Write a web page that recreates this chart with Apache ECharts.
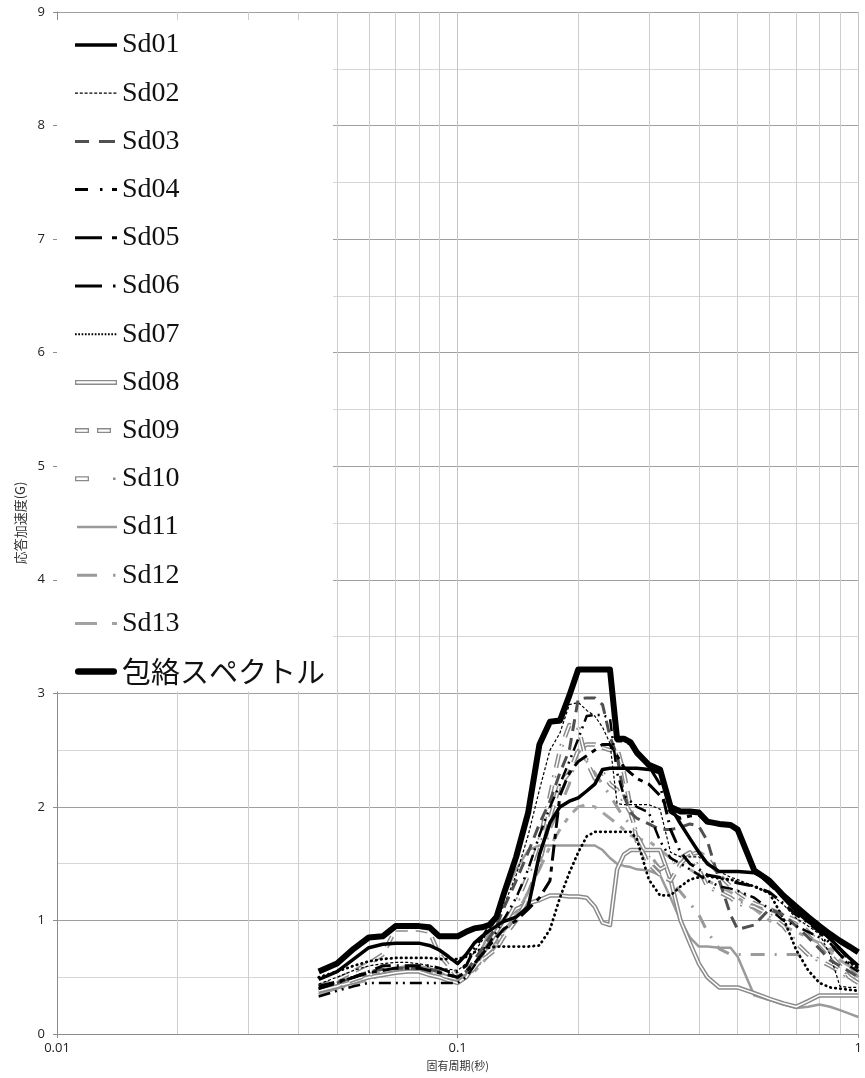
<!DOCTYPE html>
<html><head><meta charset="utf-8">
<script src="https://cdn.jsdelivr.net/npm/echarts@6/dist/echarts.min.js"></script>
<style>html,body{margin:0;padding:0;background:#fff}#c{width:865px;height:1078px}</style>
</head><body><div id="c"></div>
<script>
// ---- data (period in seconds, response acceleration in G) ----
const periods = [0.045,0.05,0.055,0.06,0.065,0.07,0.075,0.08,0.085,0.09,0.095,0.1,
  0.105,0.11,0.115,0.12,0.125,0.13,
  0.14,0.15,0.16,0.17,0.18,0.19,0.2,0.21,0.22,0.23,0.24,0.25,0.26,0.27,0.28,
  0.3,0.32,0.34,0.36,0.38,0.4,0.42,0.45,0.48,0.5,0.55,0.6,0.65,0.7,0.75,0.8,0.85,0.9,0.95,1.0];

const sd01 = [0.48,0.55,0.66,0.76,0.79,0.80,0.80,0.80,0.78,0.74,0.68,0.62,
  0.70,0.80,0.86,0.91,0.95,0.99,
  1.03,1.12,1.58,1.86,2.00,2.05,2.08,2.14,2.20,2.33,2.34,2.34,2.34,2.34,2.34,
  2.33,2.30,2.00,1.85,1.72,1.60,1.50,1.43,1.43,1.43,1.42,1.35,1.20,1.08,0.99,0.92,0.84,0.75,0.67,0.60];
const sd02 = [0.44,0.50,0.56,0.60,0.62,0.63,0.63,0.62,0.60,0.58,0.57,0.56,
  0.62,0.72,0.82,0.92,1.00,1.12,
  1.40,1.75,2.15,2.50,2.65,2.90,2.92,2.85,2.80,2.70,2.56,2.03,2.02,2.02,2.02,
  2.02,1.98,1.60,1.56,1.56,1.56,1.50,1.43,1.38,1.36,1.30,1.24,1.14,1.02,0.95,0.88,0.70,0.42,0.41,0.41];
const sd03 = [0.40,0.45,0.50,0.55,0.57,0.58,0.58,0.58,0.57,0.55,0.52,0.50,
  0.55,0.65,0.75,0.85,0.95,1.10,
  1.35,1.60,1.85,2.05,2.30,2.50,2.95,2.96,2.96,2.90,2.62,2.45,2.10,1.95,1.90,
  1.85,1.80,1.80,1.82,1.85,1.83,1.70,1.35,1.05,0.92,0.96,1.10,1.05,0.95,0.85,0.75,0.65,0.60,0.55,0.50];
const sd04 = [0.33,0.38,0.42,0.45,0.45,0.45,0.45,0.45,0.45,0.45,0.45,0.45,
  0.50,0.60,0.70,0.80,0.90,1.00,
  1.20,1.45,1.75,2.00,2.20,2.40,2.60,2.80,2.81,2.81,2.78,2.30,2.10,2.05,2.00,
  1.95,1.70,1.55,1.50,1.45,1.40,1.35,1.30,1.28,1.26,1.20,1.10,1.00,0.95,0.90,0.85,0.80,0.70,0.60,0.55];
const sd05 = [0.42,0.46,0.50,0.54,0.56,0.58,0.58,0.58,0.56,0.54,0.52,0.50,
  0.55,0.62,0.70,0.78,0.85,0.92,
  1.00,1.10,1.20,1.35,2.10,2.30,2.40,2.45,2.50,2.55,2.55,2.45,2.35,2.30,2.25,
  2.20,2.10,1.95,1.90,1.92,1.93,1.86,1.84,1.83,1.79,1.44,1.32,1.20,1.10,1.00,0.92,0.84,0.75,0.65,0.55];
const sd06 = [0.40,0.45,0.50,0.55,0.60,0.60,0.60,0.60,0.60,0.58,0.55,0.55,
  0.60,0.75,0.85,0.95,1.02,1.20,
  1.55,1.94,2.54,2.74,2.75,2.97,3.20,3.20,3.20,3.20,3.20,2.58,2.58,2.55,2.46,
  2.36,2.20,1.80,1.60,1.50,1.45,1.40,1.38,1.35,1.33,1.30,1.25,1.15,1.05,0.98,0.90,0.80,0.70,0.62,0.58];
const sd07 = [0.50,0.55,0.60,0.64,0.66,0.67,0.67,0.67,0.67,0.66,0.66,0.66,
  0.68,0.72,0.75,0.76,0.77,0.77,
  0.77,0.77,0.78,0.92,1.20,1.42,1.60,1.74,1.78,1.78,1.78,1.78,1.78,1.78,1.72,
  1.36,1.22,1.22,1.30,1.36,1.38,1.39,1.37,1.36,1.34,1.30,1.24,1.02,0.74,0.56,0.45,0.41,0.40,0.39,0.38];
const sd08 = [0.38,0.42,0.46,0.50,0.52,0.54,0.55,0.55,0.52,0.50,0.47,0.45,
  0.50,0.60,0.70,0.80,0.90,1.00,
  1.10,1.15,1.18,1.22,1.22,1.21,1.21,1.20,1.12,0.98,0.96,1.45,1.58,1.62,1.62,
  1.62,1.62,1.36,1.00,0.80,0.62,0.50,0.41,0.41,0.41,0.36,0.31,0.27,0.24,0.29,0.34,0.34,0.34,0.34,0.34];
const sd09 = [0.42,0.48,0.55,0.62,0.70,0.92,0.92,0.92,0.90,0.70,0.60,0.50,
  0.55,0.60,0.65,0.70,0.75,0.85,
  1.00,1.20,1.50,1.90,2.20,2.30,2.50,2.55,2.55,2.52,2.50,2.52,2.30,2.00,1.70,
  1.50,1.40,1.35,1.50,1.58,1.60,1.55,1.40,1.30,1.25,1.15,1.10,1.05,1.00,0.90,0.80,0.70,0.60,0.50,0.45];
const sd10 = [0.38,0.42,0.48,0.52,0.55,0.57,0.58,0.58,0.55,0.52,0.50,0.48,
  0.50,0.58,0.66,0.75,0.85,0.95,
  1.15,1.40,1.70,2.10,2.50,2.72,2.70,2.40,2.25,2.30,2.20,2.15,2.05,1.95,1.75,
  1.55,1.45,1.50,1.55,1.60,1.45,1.30,1.25,1.20,1.15,1.12,1.05,0.95,0.80,0.70,0.65,0.60,0.55,0.50,0.45];
const sd11 = [0.35,0.40,0.45,0.50,0.55,0.58,0.60,0.60,0.58,0.55,0.50,0.45,
  0.50,0.60,0.75,0.90,1.05,1.20,
  1.45,1.62,1.66,1.66,1.66,1.66,1.66,1.66,1.66,1.62,1.55,1.50,1.48,1.47,1.45,
  1.44,1.40,1.20,1.00,0.85,0.77,0.77,0.76,0.76,0.68,0.34,0.30,0.26,0.23,0.24,0.26,0.24,0.21,0.18,0.15];
const sd12 = [0.40,0.44,0.48,0.52,0.55,0.57,0.58,0.58,0.56,0.54,0.52,0.50,
  0.52,0.58,0.64,0.70,0.78,0.88,
  1.05,1.25,1.50,1.80,2.00,2.20,2.50,2.40,2.30,2.20,2.10,2.00,1.90,1.85,1.75,
  1.60,1.45,1.35,1.25,1.15,1.05,0.90,0.75,0.70,0.70,0.70,0.70,0.70,0.70,0.68,0.72,0.75,0.70,0.60,0.50];
const sd13 = [0.36,0.40,0.44,0.48,0.52,0.55,0.56,0.56,0.54,0.52,0.50,0.48,
  0.50,0.55,0.62,0.70,0.80,0.90,
  1.05,1.25,1.45,1.65,1.80,1.92,2.00,2.02,2.00,1.95,1.90,1.85,1.80,1.75,1.72,
  1.70,1.62,1.55,1.50,1.45,1.40,1.35,1.30,1.25,1.20,1.10,1.00,0.95,0.90,0.85,0.80,0.72,0.65,0.60,0.55];
const envelope = [0.55,0.62,0.75,0.85,0.86,0.95,0.95,0.95,0.94,0.86,0.86,0.86,
  0.90,0.93,0.94,0.96,1.03,1.22,
  1.56,1.95,2.55,2.75,2.76,2.98,3.21,3.21,3.21,3.21,3.21,2.60,2.60,2.57,2.48,
  2.37,2.33,2.00,1.96,1.96,1.95,1.87,1.85,1.84,1.80,1.44,1.35,1.22,1.12,1.03,0.95,0.88,0.82,0.77,0.72];

const seriesNames = ['Sd01','Sd02','Sd03','Sd04','Sd05','Sd06','Sd07','Sd08','Sd09','Sd10','Sd11','Sd12','Sd13','包絡スペクトル'];
const minorGridPeriods = [0.02,0.03,0.04,0.05,0.06,0.07,0.08,0.09,0.2,0.3,0.4,0.5,0.6,0.7,0.8,0.9];
const xAxisTitle = '固有周期(秒)';
const yAxisTitle = '応答加速度(G)';

// ---- styles ----
const GRAY = '#8a8a8a';
const styles = {
  'Sd01': {color:'#000', width:3.5, type:'solid'},
  'Sd02': {color:'#000', width:1.2, type:[3,2]},
  'Sd03': {color:'#505050', width:3, type:[12,7]},
  'Sd04': {color:'#000', width:2.5, type:[12,5,2,5,2,5]},
  'Sd05': {color:'#000', width:3, type:[16,6,5,6]},
  'Sd06': {color:'#000', width:3, type:[16,6,2,6]},
  'Sd07': {color:'#000', width:2.8, type:[0.5,4.5], cap:'round'},
  'Sd08': {color:GRAY, width:4.5, type:'solid', dbl:true},
  'Sd09': {color:GRAY, width:4.5, type:[12,8], dbl:true},
  'Sd10': {color:GRAY, width:4.5, type:[14,8,2,8], dbl:true},
  'Sd11': {color:'#9a9a9a', width:2.5, type:'solid'},
  'Sd12': {color:'#9a9a9a', width:3, type:[14,10,2,10]},
  'Sd13': {color:'#a2a2a2', width:3, type:[14,8,5,8]},
  '包絡スペクトル': {color:'#000', width:6, type:'solid'}
};
const valuesByName = {
  'Sd01':sd01,'Sd02':sd02,'Sd03':sd03,'Sd04':sd04,'Sd05':sd05,'Sd06':sd06,'Sd07':sd07,
  'Sd08':sd08,'Sd09':sd09,'Sd10':sd10,'Sd11':sd11,'Sd12':sd12,'Sd13':sd13,'包絡スペクトル':envelope
};

// legend icons (42 x 8 box)
function bars(segs, h){
  const y0 = (8-h)/2, y1 = y0+h;
  return segs.map(s=>`M${s[0]},${y0}H${s[1]}V${y1}H${s[0]}Z`).join('');
}
function hollow(segs, h, t){
  const y0 = (8-h)/2, y1 = y0+h;
  return segs.map(s=>`M${s[0]},${y0}H${s[1]}V${y1}H${s[0]}Z`+
    `M${s[0]+t},${y0+t}V${y1-t}H${s[1]-t}V${y0+t}Z`).join('');
}
function repeat(dash, gap, from, to){
  const out=[]; for(let x=from; x<to; x+=dash+gap) out.push([x, Math.min(x+dash,to)]); return out;
}
const FRAME = 'M0,0M42,8';
const icons = {
  'Sd01': bars([[0,42]],3.4),
  'Sd02': bars(repeat(3,1.8,0,42),1.2),
  'Sd03': bars([[0,14],[24,40]],3),
  'Sd04': bars([[0,13],[25,27.5],[37,42]],3),
  'Sd05': bars([[0,27],[37,42]],3),
  'Sd06': bars([[0,27],[38,40.5]],3),
  'Sd07': bars(repeat(1.7,1.6,0,42),2),
  'Sd08': hollow([[0,42]],5,1.3),
  'Sd09': hollow([[0,14],[22,36]],5,1.3),
  'Sd10': hollow([[0,14]],5,1.3)+bars([[38,40.5]],2.5),
  'Sd11': bars([[2,42]],2.5),
  'Sd12': bars([[2,22],[38,40.5]],3),
  'Sd13': bars([[0,22],[37,42]],3),
  '包絡スペクトル': 'M2,0.5H40A3.5,3.5 0 0 1 40,7.5H2A3.5,3.5 0 0 1 2,0.5Z'
};

// ---- series ----
const drawOrder = ['Sd11','Sd12','Sd13','Sd08','Sd09','Sd10','Sd07','Sd02','Sd03','Sd04','Sd05','Sd06','Sd01','包絡スペクトル'];
const series = [];
drawOrder.forEach((name, k) => {
  const st = styles[name];
  const data = periods.map((p,i)=>[p, valuesByName[name][i]]);
  const s = {
    type:'line', name, data, symbol:'none', showSymbol:false, silent:true, animation:false,
    color: st.color, itemStyle:{color:st.color},
    lineStyle:{color:st.color, width:st.width, type:st.type, cap: st.cap || 'butt', join:'round'}
  };
  if (k === 0) {
    s.markLine = {
      silent:true, animation:false, z:1, symbol:['none','none'], label:{show:false},
      lineStyle:{color:'#cdcdcd', width:1, type:'solid'},
      emphasis:{disabled:true},
      data: minorGridPeriods.map(v=>({xAxis:v}))
    };
  }
  series.push(s);
  if (st.dbl) {
    series.push({
      type:'line', name:name+'_in', data, symbol:'none', showSymbol:false, silent:true, animation:false,
      color:'#fff', lineStyle:{color:'#fff', width:1.5, type:st.type, cap:'butt', join:'round'}
    });
  }
});

const legendData = seriesNames.map(n => {
  const item = {name:n, icon:'path://' + FRAME + icons[n], itemStyle:{color:styles[n].color, borderWidth:0}};
  if (n === '包絡スペクトル') item.textStyle = {fontFamily:'"Noto Sans CJK JP"', fontSize:29};
  return item;
});

const chart = echarts.init(document.getElementById('c'), null, {renderer:'canvas'});
chart.setOption({
  animation:false,
  backgroundColor:'#fff',
  grid:{left:57, right:4, top:12, bottom:44, containLabel:false},
  legend:{
    orient:'vertical', left:57, top:20, padding:[10,8,5,18],
    itemWidth:42, itemHeight:8, itemGap:18.2,
    backgroundColor:'#fff', selectedMode:false,
    textStyle:{fontFamily:'"Liberation Serif", serif', fontSize:28, color:'#111', lineHeight:30},
    data: legendData
  },
  xAxis:{
    type:'log', logBase:10, min:0.01, max:1,
    name:xAxisTitle, nameLocation:'middle', nameGap:26,
    nameTextStyle:{fontFamily:'"Noto Sans CJK JP"', fontSize:11, color:'#333'},
    axisLine:{show:true, lineStyle:{color:'#8c8c8c'}},
    axisTick:{show:true, length:4, lineStyle:{color:'#8c8c8c'}},
    axisLabel:{fontFamily:'"Open Sans", sans-serif', fontSize:13, color:'#222', margin:8},
    splitLine:{show:true, lineStyle:{color:'#c4c4c4'}},
    minorTick:{show:false}, minorSplitLine:{show:false}
  },
  yAxis:{
    type:'value', min:0, max:9, interval:1,
    name:yAxisTitle, nameLocation:'middle', nameGap:28, nameRotate:90,
    nameTextStyle:{fontFamily:'"Noto Sans CJK JP"', fontSize:13, color:'#333'},
    axisLine:{show:true, lineStyle:{color:'#8c8c8c'}},
    axisTick:{show:true, length:4, lineStyle:{color:'#8c8c8c'}},
    axisLabel:{fontFamily:'"Open Sans", sans-serif', fontSize:13, color:'#222', margin:12},
    splitLine:{show:true, lineStyle:{color:'#9f9f9f'}},
    minorTick:{show:false, splitNumber:2},
    minorSplitLine:{show:true, lineStyle:{color:'#d6d6d6'}}
  },
  series
});
</script>
</body></html>
